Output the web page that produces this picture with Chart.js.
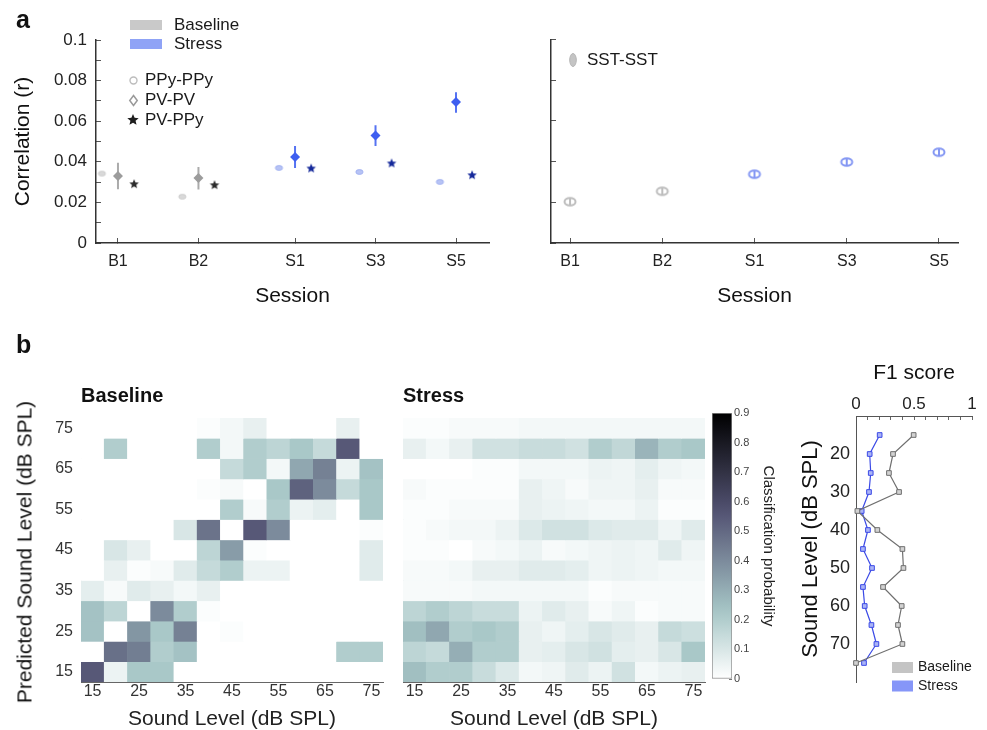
<!DOCTYPE html>
<html>
<head>
<meta charset="utf-8">
<script src="https://cdn.jsdelivr.net/npm/chart.js@4.4.1/dist/chart.umd.min.js"></script>
<style>
  body { margin: 0; background: #fff; }
  #fig { position: relative; width: 987px; height: 730px; overflow: hidden; background: #fff;
         font-family: 'Liberation Sans', Arial, sans-serif; color: #111; }
  #fig canvas { position: absolute; }
  .txt { position: absolute; white-space: nowrap; line-height: 1; }
  .panel { font-weight: bold; font-size: 25px; }
  .head { font-weight: bold; font-size: 20px; }
  .vtitle { font-size: 21px; transform: translate(-50%, -50%) rotate(-90deg); }
</style>
</head>
<body>
<div id="fig">
  <canvas id="corrChart" width="500" height="320" style="left:0;top:0"></canvas>
  <canvas id="sstChart" width="457" height="320" style="left:530px;top:0"></canvas>
  <canvas id="baseHeat" width="395" height="360" style="left:0;top:370px"></canvas>
  <canvas id="stressHeat" width="320" height="360" style="left:395px;top:370px"></canvas>
  <canvas id="colorBar" width="85" height="300" style="left:700px;top:395px"></canvas>
  <canvas id="f1Chart" width="197" height="380" style="left:790px;top:350px"></canvas>
  <div class="txt panel" style="left:16px;top:7px">a</div>
  <div class="txt panel" style="left:16px;top:332px">b</div>
  <div class="txt head" style="left:81px;top:385px">Baseline</div>
  <div class="txt head" style="left:403px;top:385px">Stress</div>
  <div class="txt vtitle" style="left:24px;top:552px">Predicted Sound Level (dB SPL)</div>
</div>
<script>
Chart.defaults.font.family = "'Liberation Sans', Arial, sans-serif";
Chart.defaults.color = '#222';

// ---- panel a: pairwise correlations per session ----
const sessions = ['B1', 'B2', 'S1', 'S3', 'S5'];
const sessionX = [1, 2, 3.2, 4.2, 5.2]; // small gap between baseline and stress sessions
const stressSession = [false, false, true, true, true];
const ppyCorr = [0.0342, 0.0228, 0.037, 0.035, 0.0301];
const pvCorr = [0.033, 0.032, 0.0424, 0.0529, 0.0694];
const pvLow = [0.0265, 0.0264, 0.037, 0.0478, 0.0642];
const pvHigh = [0.0395, 0.0375, 0.0478, 0.058, 0.0743];
const pvPpyCorr = [0.029, 0.0285, 0.0367, 0.0392, 0.0334];
const sstX = [1, 2, 3, 4, 5];
const sstCorr = [0.0203, 0.0254, 0.0338, 0.0398, 0.0446];

// ---- panel b: confusion matrices (rows = predicted level, top to bottom) ----
const soundLevels = [15, 20, 25, 30, 35, 40, 45, 50, 55, 60, 65, 70, 75];
const predictedLevels = [75, 70, 65, 60, 55, 50, 45, 40, 35, 30, 25, 20, 15];
const baselineProb = [
  [0, 0, 0, 0, 0, 0.01, 0.03, 0.06, 0, 0, 0, 0.06, 0],
  [0, 0.2, 0, 0, 0, 0.2, 0.03, 0.2, 0.17, 0.22, 0.15, 0.55, 0],
  [0, 0, 0, 0, 0, 0, 0.15, 0.2, 0.03, 0.32, 0.43, 0.05, 0.24],
  [0, 0, 0, 0, 0, 0.01, 0.02, 0, 0.22, 0.52, 0.4, 0.15, 0.22],
  [0, 0, 0, 0, 0, 0, 0.2, 0.02, 0.2, 0.05, 0.07, 0, 0.22],
  [0, 0, 0, 0, 0.1, 0.47, 0, 0.55, 0.4, 0, 0, 0, 0.01],
  [0, 0.1, 0.06, 0, 0, 0.17, 0.35, 0.01, 0, 0, 0, 0, 0.08],
  [0, 0.06, 0.01, 0.02, 0.08, 0.15, 0.2, 0.05, 0.05, 0, 0, 0, 0.08],
  [0.07, 0.02, 0.08, 0.06, 0.03, 0.06, 0, 0, 0, 0, 0, 0, 0],
  [0.24, 0.17, 0, 0.4, 0.2, 0.01, 0, 0, 0, 0, 0, 0, 0],
  [0.24, 0, 0.37, 0.22, 0.43, 0, 0.01, 0, 0, 0, 0, 0, 0],
  [0, 0.48, 0.44, 0.2, 0.24, 0, 0, 0, 0, 0, 0, 0.2, 0.2],
  [0.55, 0.05, 0.22, 0.22, 0, 0, 0, 0, 0, 0, 0, 0, 0]
];
const stressProb = [
  [0.01, 0.01, 0.02, 0.02, 0.02, 0.03, 0.03, 0.03, 0.03, 0.03, 0.03, 0.03, 0.03],
  [0.06, 0.03, 0.06, 0.12, 0.12, 0.14, 0.14, 0.12, 0.2, 0.16, 0.28, 0.2, 0.22],
  [0, 0, 0, 0.01, 0.01, 0.03, 0.03, 0.03, 0.05, 0.04, 0.07, 0.04, 0.03],
  [0.02, 0.01, 0.01, 0.01, 0.01, 0.06, 0.04, 0.02, 0.04, 0.04, 0.06, 0.02, 0.02],
  [0.01, 0.01, 0.02, 0.02, 0.02, 0.06, 0.05, 0.04, 0.03, 0.03, 0.05, 0.01, 0.01],
  [0.01, 0.02, 0.03, 0.03, 0.05, 0.09, 0.12, 0.12, 0.09, 0.08, 0.08, 0.04, 0.08],
  [0.01, 0.01, 0, 0.02, 0.03, 0.05, 0.02, 0.03, 0.04, 0.05, 0.04, 0.08, 0.04],
  [0.02, 0.02, 0.03, 0.06, 0.06, 0.08, 0.08, 0.07, 0.04, 0.05, 0.04, 0.03, 0.03],
  [0.02, 0.02, 0.02, 0.03, 0.03, 0.03, 0.03, 0.03, 0.01, 0.02, 0.02, 0.02, 0.02],
  [0.17, 0.2, 0.17, 0.14, 0.14, 0.05, 0.08, 0.06, 0.02, 0.04, 0.01, 0.02, 0.02],
  [0.25, 0.32, 0.2, 0.22, 0.2, 0.06, 0.04, 0.07, 0.1, 0.08, 0.06, 0.15, 0.13],
  [0.17, 0.15, 0.3, 0.2, 0.2, 0.06, 0.07, 0.1, 0.12, 0.07, 0.06, 0.1, 0.22],
  [0.25, 0.2, 0.2, 0.14, 0.09, 0.03, 0.04, 0.08, 0.05, 0.12, 0.03, 0.05, 0.06]
];
const colorbarTicks = [0, 0.1, 0.2, 0.3, 0.4, 0.5, 0.6, 0.7, 0.8, 0.9];

// ---- panel b: F1 score per sound level ----
const f1TickLevels = [20, 30, 40, 50, 60, 70];
const f1Baseline = [0.497, 0.319, 0.284, 0.371, 0.012, 0.184, 0.4, 0.409, 0.233, 0.394, 0.362, 0.4, 0];
const f1Stress = [0.204, 0.118, 0.127, 0.112, 0.049, 0.103, 0.06, 0.138, 0.06, 0.075, 0.133, 0.176, 0.069];

// reversed "bone" colormap, 0 -> white, 0.9 -> black
function probColor(p) {
  const t = 1 - Math.min(p, 0.9) / 0.9;
  const hr = Math.min(1, t / 0.375);
  const hg = Math.min(1, Math.max(0, (t - 0.375) / 0.375));
  const hb = Math.min(1, Math.max(0, (t - 0.75) / 0.25));
  const c = v => Math.round(v * 255);
  return 'rgb(' + c((7 * t + hb) / 8) + ',' + c((7 * t + hg) / 8) + ',' + c((7 * t + hr) / 8) + ')';
}

// small canvases used as point styles
function marker(w, h, paint) {
  const c = document.createElement('canvas');
  c.width = w; c.height = h;
  paint(c.getContext('2d'), w / 2, h / 2);
  return c;
}
function ellipseMark(rx, ry, fill, stroke, lw) {
  return marker(Math.ceil(rx * 2 + lw + 2), Math.ceil(ry * 2 + lw + 2), (g, cx, cy) => {
    g.beginPath();
    g.ellipse(cx, cy, rx, ry, 0, 0, Math.PI * 2);
    if (fill) { g.fillStyle = fill; g.fill(); }
    if (stroke) { g.lineWidth = lw; g.strokeStyle = stroke; g.stroke(); }
  });
}
function starMark(r, color) {
  return marker(r * 2 + 2, r * 2 + 2, (g, cx, cy) => {
    g.beginPath();
    for (let k = 0; k < 10; k++) {
      const rad = k % 2 ? r * 0.45 : r;
      const a = -Math.PI / 2 + k * Math.PI / 5;
      g.lineTo(cx + rad * Math.cos(a), cy + rad * Math.sin(a));
    }
    g.closePath();
    g.fillStyle = color;
    g.fill();
  });
}
function diamondOutline(r, color) {
  return marker(r * 2 + 3, r * 2 + 3, (g, cx, cy) => {
    g.beginPath();
    g.moveTo(cx, cy - r); g.lineTo(cx + r * 0.75, cy); g.lineTo(cx, cy + r); g.lineTo(cx - r * 0.75, cy);
    g.closePath();
    g.lineWidth = 1.5; g.strokeStyle = color; g.stroke();
  });
}
function sstMark(color) {
  return marker(16, 12, (g, cx, cy) => {
    g.lineWidth = 2; g.strokeStyle = color;
    g.beginPath(); g.ellipse(cx, cy, 5.5, 3.8, 0, 0, Math.PI * 2); g.stroke();
    g.beginPath(); g.moveTo(cx, cy - 3.5); g.lineTo(cx, cy + 3.5); g.stroke();
  });
}

const ppyBase = ellipseMark(3.6, 2.4, '#d9d9d9', '#cdcdcd', 1);
const ppyStress = ellipseMark(3.6, 2.4, '#b7c3f5', '#a2b2f1', 1);
const starBase = starMark(5, '#2b2b2b');
const starStress = starMark(5, '#15299a');
const sstBase = sstMark('#bdbdbd');
const sstStress = sstMark('#8497f3');

// text + swatch keys drawn straight on the chart canvas
const keyPlugin = {
  id: 'keyBoxes',
  afterDraw(chart, args, opts) {
    const g = chart.ctx;
    g.save();
    g.font = opts.font;
    g.textBaseline = 'middle';
    (opts.items || []).forEach(it => {
      if (it.box) { g.fillStyle = it.box; g.fillRect(it.x, it.y - it.h / 2, it.w, it.h); }
      if (it.image) g.drawImage(it.image, Math.round(it.x - it.image.width / 2), Math.round(it.y - it.image.height / 2));
      g.fillStyle = '#1a1a1a';
      g.fillText(it.text, it.tx, it.y);
    });
    g.restore();
  }
};

function errorBars(keep) {
  const pts = [];
  sessionX.forEach((x, i) => {
    if (!keep(i)) return;
    pts.push({x: x, y: pvLow[i]}, {x: x, y: pvHigh[i]}, {x: x, y: null});
  });
  return pts;
}

const noHover = { legend: {display: false}, tooltip: {enabled: false} };

// ---------- panel a, left ----------
new Chart(document.getElementById('corrChart'), {
  type: 'scatter',
  plugins: [keyPlugin],
  data: {
    datasets: [
      { data: sessionX.map((x, i) => ({x: x - 0.2, y: ppyCorr[i]})),
        pointStyle: stressSession.map(s => s ? ppyStress : ppyBase), pointRadius: 5, order: 1, clip: false },
      { data: sessionX.map((x, i) => ({x: x, y: pvCorr[i]})),
        pointStyle: 'rectRot', pointRadius: 5, pointBorderWidth: 0,
        pointBackgroundColor: stressSession.map(s => s ? '#3f5ff0' : '#9c9c9c'), order: 1, clip: false },
      { data: sessionX.map((x, i) => ({x: x + 0.2, y: pvPpyCorr[i]})),
        pointStyle: stressSession.map(s => s ? starStress : starBase), pointRadius: 5, order: 1, clip: false },
      { data: errorBars(i => !stressSession[i]), showLine: true, spanGaps: false, pointRadius: 0,
        borderColor: '#ababab', borderWidth: 2, order: 2 },
      { data: errorBars(i => stressSession[i]), showLine: true, spanGaps: false, pointRadius: 0,
        borderColor: '#5673f2', borderWidth: 2, order: 2 }
    ]
  },
  options: {
    responsive: false, animation: false, events: [],
    layout: { padding: { left: 0, top: 40, right: 11, bottom: 0 } },
    plugins: Object.assign({}, noHover, {
      keyBoxes: {
        font: "17px 'Liberation Sans', Arial, sans-serif",
        items: [
          { box: '#c9c9c9', x: 130, w: 32, h: 10, y: 25, text: 'Baseline', tx: 174 },
          { box: '#8fa3f6', x: 130, w: 32, h: 10, y: 44, text: 'Stress', tx: 174 },
          { image: ellipseMark(3.5, 3.5, null, '#bdbdbd', 1.4), x: 133, y: 80, text: 'PPy-PPy', tx: 145 },
          { image: diamondOutline(5, '#9a9a9a'), x: 133, y: 100, text: 'PV-PV', tx: 145 },
          { image: starMark(6, '#1e1e1e'), x: 133, y: 120, text: 'PV-PPy', tx: 145 }
        ]
      }
    }),
    scales: {
      x: {
        type: 'linear', min: 0.727, max: 5.61,
        afterBuildTicks: s => { s.ticks = sessionX.map(v => ({value: v})); },
        ticks: { callback: (v, i) => sessions[i], font: {size: 16}, padding: 14, autoSkip: false, maxRotation: 0, color: '#222' },
        grid: { drawOnChartArea: false, tickLength: -5, color: '#555' },
        border: { color: '#333', width: 1.5 },
        title: { display: true, text: 'Session', font: {size: 21}, padding: {bottom: 11}, color: '#111' },
        afterFit: s => { s.height = 77; }
      },
      y: {
        min: 0, max: 0.1,
        ticks: { stepSize: 0.01, autoSkip: false, font: {size: 17}, padding: 14, color: '#222',
                 callback: v => Math.round(v * 100) % 2 === 0 ? String(Math.round(v * 100) / 100) : '' },
        grid: { drawOnChartArea: false, tickLength: -5, color: '#555' },
        border: { color: '#333', width: 1.5 },
        title: { display: true, text: 'Correlation (r)', font: {size: 21}, padding: {top: 11}, color: '#111' },
        afterFit: s => { s.width = 96; }
      }
    }
  }
});

// ---------- panel a, right ----------
new Chart(document.getElementById('sstChart'), {
  type: 'scatter',
  plugins: [keyPlugin],
  data: {
    datasets: [
      { data: sstX.map((x, i) => ({x: x, y: sstCorr[i]})),
        pointStyle: stressSession.map(s => s ? sstStress : sstBase), pointRadius: 6, clip: false }
    ]
  },
  options: {
    responsive: false, animation: false, events: [],
    layout: { padding: { left: 0, top: 39.5, right: 29, bottom: 0 } },
    plugins: Object.assign({}, noHover, {
      keyBoxes: {
        font: "17px 'Liberation Sans', Arial, sans-serif",
        items: [
          { image: ellipseMark(3.3, 6.5, '#c4c4c4', '#b5b5b5', 1), x: 43, y: 60, text: 'SST-SST', tx: 57 }
        ]
      }
    }),
    scales: {
      x: {
        type: 'linear', min: 0.794, max: 5.206,
        afterBuildTicks: s => { s.ticks = sstX.map(v => ({value: v})); },
        ticks: { callback: (v, i) => sessions[i], font: {size: 16}, padding: 14, autoSkip: false, maxRotation: 0, color: '#222' },
        grid: { drawOnChartArea: false, tickLength: -5, color: '#555' },
        border: { color: '#333', width: 1.5 },
        title: { display: true, text: 'Session', font: {size: 21}, padding: {bottom: 11}, color: '#111' },
        afterFit: s => { s.height = 77; }
      },
      y: {
        min: 0, max: 0.1,
        ticks: { stepSize: 0.02, display: false },
        grid: { drawOnChartArea: false, tickLength: -5, color: '#555' },
        border: { color: '#333', width: 1.5 },
        afterFit: s => { s.width = 21; }
      }
    }
  }
});

// ---------- panel b heatmaps (floating bars, one dataset per predicted level) ----------
function heatData(matrix) {
  return {
    labels: soundLevels.map(String),
    datasets: matrix.map((row, r) => ({
      data: row.map(() => [predictedLevels[r] - 2.5, predictedLevels[r] + 2.5]),
      backgroundColor: row.map(probColor),
      borderWidth: 0, grouped: false, barPercentage: 1, categoryPercentage: 1
    }))
  };
}
function heatOptions(showLabels, yWidth, padRight) {
  return {
    responsive: false, animation: false, events: [],
    layout: { padding: { left: 0, top: 48, right: padRight, bottom: 0 } },
    plugins: noHover,
    scales: {
      x: {
        type: 'category', offset: true,
        ticks: { autoSkip: false, maxRotation: 0, padding: 5, font: {size: 16}, color: '#333',
                 callback: function (v, i) { return i % 2 === 0 ? this.getLabelForValue(v) : ''; } },
        grid: { offset: false, drawOnChartArea: false, tickLength: -5, color: '#666' },
        border: { color: '#666' },
        title: { display: true, text: 'Sound Level (dB SPL)', font: {size: 21, lineHeight: 1}, padding: {bottom: 0}, color: '#222' },
        afterFit: s => { s.height = 48; }
      },
      y: {
        type: 'linear', min: 12.5, max: 77.5,
        afterBuildTicks: s => { s.ticks = soundLevels.map(v => ({value: v})); },
        ticks: { display: showLabels, autoSkip: false, padding: 13, font: {size: 16}, color: '#333',
                 callback: v => (v % 10 === 5 ? v : '') },
        grid: { drawOnChartArea: false, tickLength: -5, color: '#666' },
        border: { color: '#666' },
        afterFit: s => { s.width = yWidth; }
      }
    }
  };
}
new Chart(document.getElementById('baseHeat'), { type: 'bar', data: heatData(baselineProb), options: heatOptions(true, 81, 12) });
new Chart(document.getElementById('stressHeat'), { type: 'bar', data: heatData(stressProb), options: heatOptions(false, 8, 10) });

// ---------- colour bar ----------
new Chart(document.getElementById('colorBar'), {
  type: 'bar',
  data: {
    labels: [''],
    datasets: [{
      data: [[colorbarTicks[0], colorbarTicks[colorbarTicks.length - 1]]],
      backgroundColor: c => {
        const a = c.chart.chartArea;
        if (!a) return '#fff';
        const grad = c.chart.ctx.createLinearGradient(0, a.bottom, 0, a.top);
        for (let k = 0; k <= 18; k++) grad.addColorStop(k / 18, probColor(0.9 * k / 18));
        return grad;
      },
      borderColor: '#8c8c8c', borderWidth: 1, borderSkipped: false, barPercentage: 1, categoryPercentage: 1
    }]
  },
  options: {
    responsive: false, animation: false, events: [],
    layout: { padding: { left: 12, top: 18, right: 0, bottom: 16 } },
    plugins: noHover,
    scales: {
      x: { display: false },
      y: {
        position: 'right', min: 0, max: 0.9,
        afterBuildTicks: s => { s.ticks = colorbarTicks.map(v => ({value: v})); },
        ticks: { font: {size: 11}, color: '#444', padding: 5, callback: v => String(v) },
        grid: { drawOnChartArea: false, tickLength: -3, color: '#777' },
        border: { display: false },
        title: { display: true, text: 'Classification probability', font: {size: 15}, padding: {top: 8}, color: '#222' },
        afterFit: s => { s.width = 53; }
      }
    }
  }
});

// ---------- F1 score ----------
new Chart(document.getElementById('f1Chart'), {
  type: 'scatter',
  plugins: [keyPlugin],
  data: {
    datasets: [
      { data: soundLevels.map((lv, i) => ({x: f1Baseline[i], y: lv})), showLine: true,
        borderColor: '#6f6f6f', borderWidth: 1.2, pointStyle: 'rect', pointRadius: 3.3,
        pointBackgroundColor: '#d2d2d2', pointBorderColor: '#6f6f6f', pointBorderWidth: 1, clip: false },
      { data: soundLevels.map((lv, i) => ({x: f1Stress[i], y: lv})), showLine: true,
        borderColor: '#3b4ae6', borderWidth: 1.2, pointStyle: 'rect', pointRadius: 3.3,
        pointBackgroundColor: '#aab4f6', pointBorderColor: '#3b4ae6', pointBorderWidth: 1, clip: false }
    ]
  },
  options: {
    responsive: false, animation: false, events: [],
    layout: { padding: { left: 0, top: 0, right: 15, bottom: 48 } },
    plugins: Object.assign({}, noHover, {
      keyBoxes: {
        font: "14px 'Liberation Sans', Arial, sans-serif",
        items: [
          { box: '#c4c4c4', x: 102, w: 21, h: 11, y: 317.5, text: 'Baseline', tx: 128 },
          { box: '#8696f8', x: 102, w: 21, h: 11, y: 336, text: 'Stress', tx: 128 }
        ]
      }
    }),
    scales: {
      x: {
        position: 'top', min: 0, max: 1,
        ticks: { stepSize: 0.1, autoSkip: false, maxRotation: 0, padding: 5, font: {size: 17}, color: '#222',
                 callback: v => Math.round(v * 10) % 5 === 0 ? String(Math.round(v * 10) / 10) : '' },
        grid: { drawOnChartArea: false, tickLength: -4, color: '#666' },
        border: { color: '#555' },
        title: { display: true, text: 'F1 score', font: {size: 21}, padding: {top: 11}, color: '#111' },
        afterFit: s => { s.height = 66; }
      },
      y: {
        reverse: true, min: 10, max: 80,
        afterBuildTicks: s => { s.ticks = f1TickLevels.map(v => ({value: v})); },
        ticks: { font: {size: 18}, padding: 6, color: '#222' },
        grid: { drawOnChartArea: false, drawTicks: false },
        border: { color: '#555' },
        title: { display: true, text: 'Sound Level (dB SPL)', font: {size: 22}, padding: {top: 8}, color: '#111' },
        afterFit: s => { s.width = 66; }
      }
    }
  }
});
</script>
</body>
</html>
